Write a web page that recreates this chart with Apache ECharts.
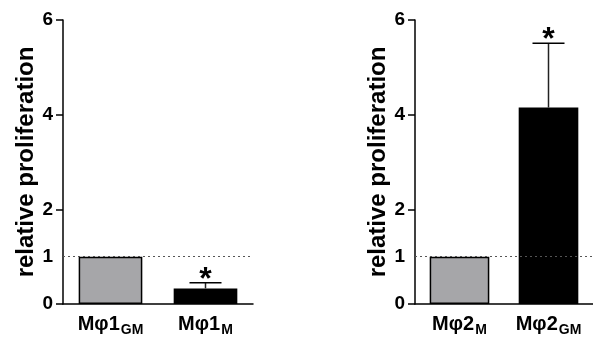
<!DOCTYPE html>
<html>
<head>
<meta charset="utf-8">
<script src="https://cdn.jsdelivr.net/npm/echarts@6/dist/echarts.min.js"></script>
<style>html,body{margin:0;padding:0;background:#fff;}#c{width:593px;height:341px;}</style>
</head>
<body>
<div id="c"></div>
<script>
// ---- data ----
const leftCategories = ['Mφ1|GM', 'Mφ1|M'];
const leftMeans = [1, 0.33];
const leftUpper = [null, 0.45];
const leftSignif = ['', '*'];

const rightCategories = ['Mφ2|M', 'Mφ2|GM'];
const rightMeans = [1, 4.15];
const rightUpper = [null, 5.51];
const rightSignif = ['', '*'];

const yTicks = [0, 2, 4, 6];
const yExtraLabel = [1];
const referenceLine = 1;
const yTitle = 'relative proliferation';

// ---- styling ----
const FONT = 'Liberation Sans';
const barColors = ['#a6a6a9', '#000000'];

const chart = echarts.init(document.getElementById('c'), null, {renderer: 'canvas'});

function xAxisCfg(gridIndex, cats) {
  return {
    type: 'category', gridIndex: gridIndex, data: cats,
    axisLine: {lineStyle: {color: '#000', width: 1.5}},
    axisTick: {alignWithLabel: true, interval: 0, length: 8, lineStyle: {color: '#000', width: 1.5}},
    axisLabel: {
      margin: 10, interval: 0,
      formatter: function (v) {
        const p = v.split('|');
        return '{a|' + p[0] + '}{b|' + p[1] + '}';
      },
      rich: {
        a: {fontFamily: FONT, fontWeight: 'bold', fontSize: 20, color: '#000', lineHeight: 20, verticalAlign: 'top'},
        b: {fontFamily: FONT, fontWeight: 'bold', fontSize: 14, color: '#000', lineHeight: 12, padding: [9, 0, 0, 1], verticalAlign: 'top'}
      }
    }
  };
}

function yAxisMain(gridIndex) {
  return {
    type: 'value', gridIndex: gridIndex, min: 0, max: 6, interval: 2,
    name: yTitle, nameLocation: 'middle', nameGap: 23,
    nameTextStyle: {fontFamily: FONT, fontWeight: 'bold', fontSize: 24, color: '#000'},
    axisLine: {show: true, lineStyle: {color: '#000', width: 1.5}},
    axisTick: {show: true, length: 7, lineStyle: {color: '#000', width: 1.5}},
    splitLine: {show: false},
    axisLabel: {
      margin: 10, fontFamily: FONT, fontWeight: 'bold', fontSize: 19, color: '#000',
      formatter: function (v) { return yTicks.indexOf(v) >= 0 ? String(v) : ''; }
    }
  };
}

function yAxisExtra(gridIndex) {
  return {
    type: 'value', gridIndex: gridIndex, min: 0, max: 6, interval: 1, position: 'left',
    axisLine: {show: false}, axisTick: {show: false}, splitLine: {show: false},
    axisLabel: {
      margin: 10, fontFamily: FONT, fontWeight: 'bold', fontSize: 19, color: '#000',
      formatter: function (v) { return yExtraLabel.indexOf(v) >= 0 ? String(v) : ''; }
    }
  };
}

function errRender(signif) {
  return function (params, api) {
    const idx = api.value(0);
    const mean = api.value(1);
    const up = api.value(2);
    const p0 = api.coord([idx, mean]);
    const p1 = api.coord([idx, up]);
    const half = 16;
    const children = [
      {type: 'line', shape: {x1: p0[0], y1: p0[1], x2: p1[0], y2: p1[1]}, style: {stroke: '#222', lineWidth: 1.5}},
      {type: 'line', shape: {x1: p1[0] - half, y1: p1[1], x2: p1[0] + half, y2: p1[1]}, style: {stroke: '#000', lineWidth: 1.5}}
    ];
    const s = signif[params.dataIndex];
    if (s) {
      children.push({type: 'text', style: {text: s, x: p1[0], y: p1[1] - 3, fill: '#000',
        font: 'bold 32px ' + FONT, textAlign: 'center', textVerticalAlign: 'middle'}});
    }
    return {type: 'group', children: children};
  };
}

function seriesFor(k, means, upper, signif) {
  const xi = k, yi = k * 2;
  const errData = [];
  for (let i = 0; i < means.length; i++) {
    if (upper[i] != null) errData.push([i, means[i], upper[i]]);
  }
  return [
    {
      type: 'line', xAxisIndex: xi, yAxisIndex: yi, data: [], z: 1, silent: true,
      markLine: {
        symbol: 'none', silent: true, label: {show: false},
        lineStyle: {type: [2, 3], color: '#555', width: 1},
        data: [{yAxis: referenceLine}]
      }
    },
    {
      type: 'bar', xAxisIndex: xi, yAxisIndex: yi, z: 2, barWidth: '67%',
      data: means.map(function (v, i) {
        return {value: v, itemStyle: {color: barColors[i], borderColor: '#000', borderWidth: 1.5}};
      })
    },
    {
      type: 'custom', xAxisIndex: xi, yAxisIndex: yi, z: 3,
      renderItem: errRender(signif),
      encode: {x: 0, y: [1, 2]},
      data: errData
    }
  ];
}

function signifByErr(means, upper, signif) {
  const out = [];
  for (let i = 0; i < means.length; i++) if (upper[i] != null) out.push(signif[i]);
  return out;
}

chart.setOption({
  animation: false,
  backgroundColor: '#fff',
  grid: [
    {left: 63, top: 20, width: 190, height: 284},
    {left: 415, top: 20, width: 188, height: 284}
  ],
  xAxis: [xAxisCfg(0, leftCategories), xAxisCfg(1, rightCategories)],
  yAxis: [yAxisMain(0), yAxisExtra(0), yAxisMain(1), yAxisExtra(1)],
  series: []
    .concat(seriesFor(0, leftMeans, leftUpper, signifByErr(leftMeans, leftUpper, leftSignif)))
    .concat(seriesFor(1, rightMeans, rightUpper, signifByErr(rightMeans, rightUpper, rightSignif)))
});
</script>
</body>
</html>
